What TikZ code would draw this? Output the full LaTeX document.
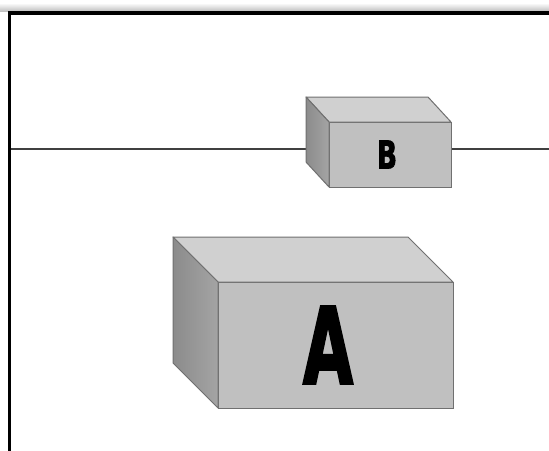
\documentclass[tikz,border=0pt]{standalone}
\usepackage{fontspec}
\usepackage{graphicx}
\usetikzlibrary{calc}
\newfontfamily\heavy{DejaVu Sans Condensed Bold}[FakeBold=2.5]
\pgfdeclarelayer{background}
\pgfsetlayers{background,main}
\definecolor{topc}{HTML}{D0D0D0}
\definecolor{frontc}{HTML}{C0C0C0}
\definecolor{sidec}{HTML}{A4A4A4}
\definecolor{edgec}{HTML}{707070}
\definecolor{linec}{HTML}{404040}
\tikzset{
  front/.style={draw=edgec, line width=1pt, fill=frontc, inner sep=0pt, outer sep=0pt},
  topface/.style={draw=edgec, line width=1pt, fill=topc, line join=round},
  sideface/.style={draw=edgec, line width=1pt, left color=sidec!85!black, right color=sidec, line join=round},
  wire/.style={draw=linec, line width=1.4pt},
  frame/.style={draw=black, line width=3.6pt}
}
\begin{document}
\begin{tikzpicture}[x=1pt,y=-1pt]
\useasboundingbox (0,0) rectangle (549,450);
\clip (0,0) rectangle (549,450);
% Box B
\node[front, minimum width=122pt, minimum height=65pt, anchor=north west] (B) at (329,122) {\resizebox{20pt}{28pt}{\heavy B}\kern6pt};
\coordinate (Bbtl) at ($(B.north west)+(-23,-25)$);
\coordinate (Bbtr) at ($(B.north east)+(-23,-25)$);
\coordinate (Bbbl) at ($(B.south west)+(-23,-25)$);
\draw[topface] (B.north west) -- (Bbtl) -- (Bbtr) -- (B.north east) -- cycle;
\draw[sideface] (B.north west) -- (Bbtl) -- (Bbbl) -- (B.south west) -- cycle;
\coordinate (L) at (9.5,149);
\coordinate (R) at (560,149);
\begin{pgfonlayer}{background}
\fill[white] (0,0) rectangle (549,450);
\shade[top color=white, bottom color=black!25] (0,3) rectangle (549,11.2);
\draw[wire] (L) -- (L -| B.west);
\draw[wire] (B.east |- R) -- (R);
\end{pgfonlayer}
\draw[frame] (9.5,470) -- (9.5,13) -- (570,13);
% Box A
\node[front, minimum width=235pt, minimum height=126pt, anchor=north west] (A) at (218,282) {\resizebox{50pt}{77pt}{\heavy A}\kern15pt};
\coordinate (Abtl) at ($(A.north west)+(-45,-45)$);
\coordinate (Abtr) at ($(A.north east)+(-45,-45)$);
\coordinate (Abbl) at ($(A.south west)+(-45,-45)$);
\draw[topface] (A.north west) -- (Abtl) -- (Abtr) -- (A.north east) -- cycle;
\draw[sideface] (A.north west) -- (Abtl) -- (Abbl) -- (A.south west) -- cycle;
\end{tikzpicture}
\end{document}
